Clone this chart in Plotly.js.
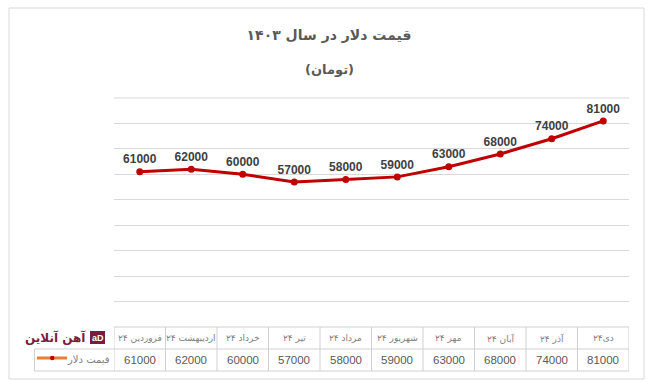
<!DOCTYPE html>
<html>
<head>
<meta charset="utf-8">
<script src="https://cdn.plot.ly/plotly-3.0.1.min.js"></script>
<style>html,body{margin:0;padding:0;background:#fff;}#chart{width:649px;height:391px;}</style>
</head>
<body>
<div id="chart"></div>
<script>
// ---- data ----
var categories = ['۲۴ فروردین','۲۴ اردیبهشت','۲۴ خرداد','۲۴ تیر','۲۴ مرداد','۲۴ شهریور','۲۴ مهر','۲۴ آبان','۲۴ آذر','۲۴دی'];
var prices = [61000, 62000, 60000, 57000, 58000, 59000, 63000, 68000, 74000, 81000];
var seriesName = 'قیمت دلار';
var titleText = 'قیمت دلار در سال ۱۴۰۳';
var subtitleText = '(تومان)';
var logoText = 'آهن آنلاین';

// ---- layout geometry (pixels) ----
var W = 649, H = 391;
var M = {l: 114, r: 20, t: 98, b: 64};
var PW = W - M.l - M.r, PH = H - M.t - M.b;
function px(x){ return (x - M.l) / PW; }
function py(y){ return (H - M.b - y) / PH; }

var gridCol = '#d9d9d9';
var tableCol = '#d0d0d0';
var red = '#c00000';

var trace = {
  type: 'scatter',
  x: categories,
  y: prices,
  name: seriesName,
  mode: 'lines+markers+text',
  line: {color: red, width: 3},
  marker: {color: red, size: 7},
  text: prices.map(function(v){ return String(v); }),
  textposition: 'top center',
  textfont: {family: 'Liberation Sans, Arial, sans-serif', size: 12, color: '#404040', weight: 'bold'},
  cliponaxis: false,
  hoverinfo: 'skip'
};

var shapes = [];
var annotations = [];

// outer border
shapes.push({type:'rect', xref:'paper', yref:'paper', x0:px(9), x1:px(644), y0:py(8), y1:py(379), line:{color:'#d9d9d9', width:1}, layer:'below'});
// top gridline (range edge)
shapes.push({type:'line', xref:'paper', yref:'paper', x0:0, x1:1, y0:1, y1:1, line:{color:gridCol, width:1}, layer:'below'});

// table lines
var rowTop = 327, rowMid = 349, rowBot = 371, legLeft = 34.5;
shapes.push({type:'line', xref:'paper', yref:'paper', x0:0, x1:1, y0:py(rowTop), y1:py(rowTop), line:{color:tableCol, width:1}});
shapes.push({type:'line', xref:'paper', yref:'paper', x0:px(legLeft), x1:1, y0:py(rowMid), y1:py(rowMid), line:{color:tableCol, width:1}});
shapes.push({type:'line', xref:'paper', yref:'paper', x0:px(legLeft), x1:1, y0:py(rowBot), y1:py(rowBot), line:{color:tableCol, width:1}});
shapes.push({type:'line', xref:'paper', yref:'paper', x0:px(legLeft), x1:px(legLeft), y0:py(rowMid), y1:py(rowBot), line:{color:tableCol, width:1}});
for (var i = 0; i <= categories.length; i++) {
  shapes.push({type:'line', xref:'x', yref:'paper', x0:i-0.5, x1:i-0.5, y0:py(rowTop), y1:py(rowBot), line:{color:tableCol, width:1}});
}

// table cell texts
categories.forEach(function(c, i){
  annotations.push({xref:'x', yref:'paper', x:i, y:py((rowTop+rowMid)/2), text:c, showarrow:false,
    xanchor:'center', yanchor:'middle', font:{family:'DejaVu Sans, sans-serif', size:9, color:'#7f7f7f'}});
  annotations.push({xref:'x', yref:'paper', x:i, y:py((rowMid+rowBot)/2), text:String(prices[i]), showarrow:false,
    xanchor:'center', yanchor:'middle', font:{family:'Liberation Sans, Arial, sans-serif', size:11.5, color:'#595959'}});
});

// legend key in table
shapes.push({type:'line', xref:'paper', yref:'paper', x0:px(37), x1:px(67), y0:py(358), y1:py(358), line:{color:'#ed7d31', width:3}});
shapes.push({type:'circle', xref:'paper', yref:'paper', x0:px(50), x1:px(54.5), y0:py(355.8), y1:py(360.3), fillcolor:red, line:{color:red, width:0}});
annotations.push({xref:'paper', yref:'paper', x:px(112), y:py(359), text:seriesName, showarrow:false,
  xanchor:'right', yanchor:'middle', font:{family:'DejaVu Sans, sans-serif', size:10, color:'#7f7f7f'}});

// logo
annotations.push({xref:'paper', yref:'paper', x:px(88), y:py(337), text:'<b>'+logoText+'</b>', showarrow:false,
  xanchor:'right', yanchor:'middle', font:{family:'DejaVu Sans, sans-serif', size:12, color:'#7b1c3c'}});
shapes.push({type:'rect', xref:'paper', yref:'paper', x0:px(90), x1:px(105), y0:py(331), y1:py(344), fillcolor:'#7b1c3c', line:{width:0}});
annotations.push({xref:'paper', yref:'paper', x:px(97.5), y:py(337.5), text:'<b>aD</b>', showarrow:false,
  xanchor:'center', yanchor:'middle', font:{family:'Liberation Sans, Arial, sans-serif', size:9, color:'#ffffff'}});

// subtitle
annotations.push({xref:'paper', yref:'paper', x:px(329), y:py(70), text:subtitleText, showarrow:false,
  xanchor:'center', yanchor:'middle', font:{family:'DejaVu Sans, sans-serif', size:13, color:'#595959', weight:'bold'}});

var layout = {
  width: W, height: H,
  margin: M,
  paper_bgcolor: '#ffffff', plot_bgcolor: '#ffffff',
  showlegend: false,
  title: {text: titleText, xref:'container', yref:'container', x: 329/W, y: 1 - 35/H, xanchor:'center', yanchor:'middle',
    font: {family:'DejaVu Sans, sans-serif', size: 14, color:'#595959', weight:'bold'}},
  xaxis: {type:'category', range:[-0.5, categories.length - 0.5], showticklabels:false, showgrid:false, zeroline:false, showline:false, ticks:'', fixedrange:true},
  yaxis: {range:[0, 90000], dtick:10000, showticklabels:false, showgrid:true, gridcolor:gridCol, gridwidth:1, zeroline:false, showline:false, ticks:'', fixedrange:true},
  shapes: shapes,
  annotations: annotations
};

Plotly.newPlot('chart', [trace], layout, {displayModeBar:false, staticPlot:true});
</script>
</body>
</html>
